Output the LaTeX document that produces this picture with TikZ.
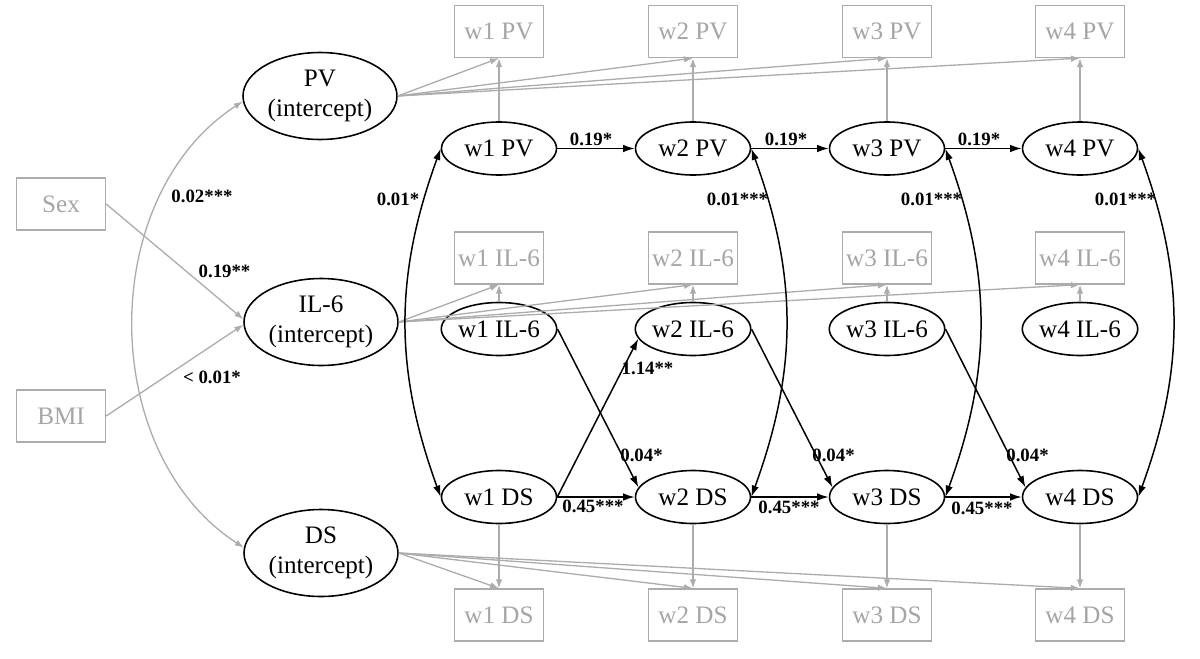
\documentclass[tikz,border=0pt]{standalone}
\usepackage{fontspec}
\setmainfont{Liberation Serif}
\usetikzlibrary{arrows.meta,shapes.geometric}
\definecolor{grayc}{RGB}{172,172,172}
\definecolor{graytxt}{RGB}{165,165,165}
\begin{document}
\begin{tikzpicture}[x=0.02cm,y=0.02cm,
 lat/.style={ellipse,draw=black,line width=0.9pt,minimum width=2.3cm,minimum height=1.06cm,inner sep=0pt,font=\fontsize{14.3}{16}\selectfont},
 icpt/.style={ellipse,draw=black,line width=0.9pt,minimum width=3.08cm,minimum height=1.74cm,inner sep=0pt,align=center,font=\fontsize{14.3}{17}\selectfont},
 obs/.style={rectangle,draw=grayc,line width=0.75pt,minimum width=1.78cm,minimum height=1.04cm,inner sep=0pt,text=graytxt,font=\fontsize{14.3}{16}\selectfont},
 garr/.style={draw=grayc,line width=0.75pt,-{Latex[length=0.18cm,width=0.13cm]}},
 garrb/.style={draw=grayc,line width=0.75pt,{Latex[length=0.18cm,width=0.13cm]}-{Latex[length=0.18cm,width=0.13cm]}},
 barr/.style={draw=black,line width=0.85pt,-{Latex[length=0.23cm,width=0.15cm]}},
 barrb/.style={draw=black,line width=0.85pt,{Latex[length=0.23cm,width=0.15cm]}-{Latex[length=0.23cm,width=0.15cm]}},
 lbl/.style={font=\fontsize{10.7}{12}\selectfont\bfseries,inner sep=0pt}
]
\useasboundingbox (0,0) rectangle (1200,-659);

% intercepts and covariates
\node[icpt] (pvi) at (320,-96) {PV\\(intercept)};
\node[icpt] (ili) at (321,-322) {IL-6\\(intercept)};
\node[icpt] (dsi) at (321,-553) {DS\\(intercept)};
\node[obs] (sex) at (61,-204) {Sex};
\node[obs] (bmi) at (61,-416) {BMI};

% waves
\foreach \i/\x in {1/499,2/693,3/887,4/1080}{
  \node[obs] (gpv\i) at (\x,-31.5) {w\i{} PV};
  \node[lat] (pv\i) at (\x,-148.5) {w\i{} PV};
  \node[obs] (gil\i) at (\x,-258) {w\i{} IL-6};
  \node[lat] (il\i) at (\x,-329) {w\i{} IL-6};
  \node[lat] (ds\i) at (\x,-497) {w\i{} DS};
  \node[obs] (gds\i) at (\x,-615) {w\i{} DS};
}

% gray measurement arrows
\foreach \i in {1,...,4}{
  \draw[garr] (pv\i.north) -- (gpv\i.south);
  \draw[garr] (il\i.north) -- (gil\i.south);
  \draw[garr] (ds\i.south) -- (gds\i.north);
  \draw[garr] (pvi.east) -- (gpv\i.south);
  \draw[garr] (ili.east) -- (gil\i.south);
  \draw[garr] (dsi.east) -- (gds\i.north);
}

% covariates
\draw[garr] (sex.east) -- (ili.178);
\draw[garr] (bmi.east) -- (ili.182);
\draw[garrb] (pvi.184) to[out=213,in=147] (dsi.176);

% black covariances
\draw[barrb] (pv1.west) to[out=250,in=110] (ds1.west);
\foreach \i in {2,3,4}{
  \draw[barrb] (pv\i.east) to[out=-70,in=70] (ds\i.east);
}

% autoregressive paths
\draw[barr] (pv1.east) -- (pv2.west);
\draw[barr] (pv2.east) -- (pv3.west);
\draw[barr] (pv3.east) -- (pv4.west);
\draw[barr] (ds1.east) -- (ds2.west);
\draw[barr] (ds2.east) -- (ds3.west);
\draw[barr] (ds3.east) -- (ds4.west);

% cross-lagged
\draw[barr] (il1.east) -- (ds2.170);
\draw[barr] (il2.east) -- (ds3.170);
\draw[barr] (il3.east) -- (ds4.170);
\draw[barr] (ds1.east) -- (il2.190);

% labels
\node[lbl] (l1) at (202,-196) {0.02***};
\node[lbl] (l2) at (224.5,-271) {0.19**};
\node[lbl] (l3) at (212,-377.5) {< 0.01*};
\node[lbl] (l4) at (398,-199) {0.01*};
\node[lbl] (l5) at (737.5,-199) {0.01***};
\node[lbl] (l6) at (931.5,-199) {0.01***};
\node[lbl] (l7) at (1125.5,-199) {0.01***};
\node[lbl] (l8) at (591,-139) {0.19*};
\node[lbl] (l9) at (786,-139) {0.19*};
\node[lbl] (l10) at (979,-139) {0.19*};
\node[lbl] (l11) at (593,-506) {0.45***};
\node[lbl] (l12) at (789,-507) {0.45***};
\node[lbl] (l13) at (982,-508) {0.45***};
\node[lbl] (l14) at (641.5,-455) {0.04*};
\node[lbl] (l15) at (833.5,-455) {0.04*};
\node[lbl] (l16) at (1027.5,-455) {0.04*};
\node[lbl] (l17) at (647.5,-368) {1.14**};
\end{tikzpicture}
\end{document}
